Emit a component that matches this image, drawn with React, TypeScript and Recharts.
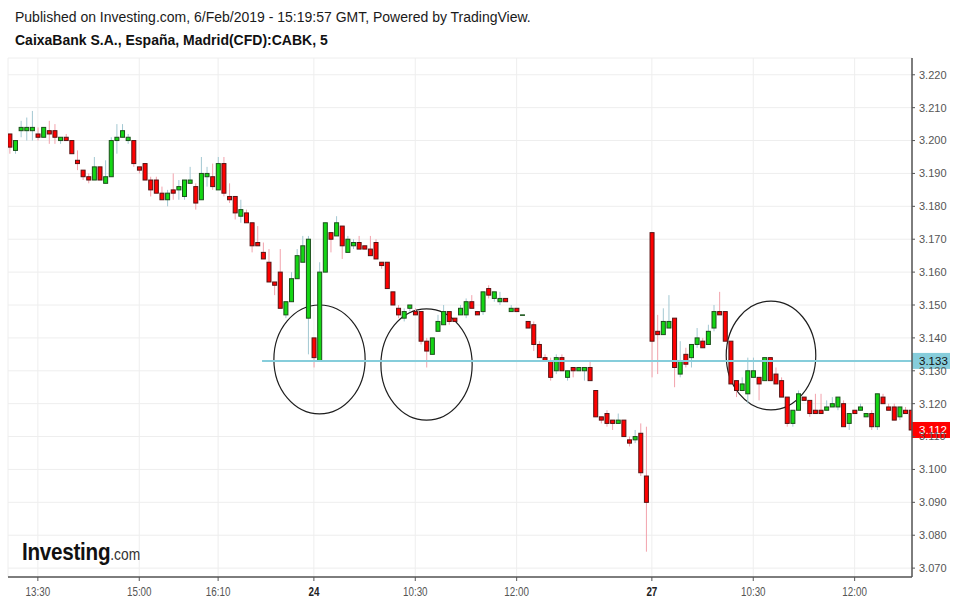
import React from 'react';
import { ComposedChart, Bar, XAxis, YAxis, CartesianGrid, ReferenceLine, ReferenceArea } from 'recharts';

// ---- data (CABK 5-minute candles) ----
const opens = [
  3.202, 3.197, 3.203, 3.203, 3.203, 3.202, 3.201, 3.203, 3.203, 3.200,
  3.201, 3.200, 3.194, 3.191, 3.189, 3.188, 3.192, 3.187, 3.189, 3.200,
  3.201, 3.200, 3.200, 3.192, 3.193, 3.188, 3.188, 3.184, 3.182, 3.185,
  3.185, 3.183, 3.187, 3.186, 3.182, 3.189, 3.189, 3.185, 3.193, 3.183,
  3.183, 3.177, 3.178, 3.175, 3.169, 3.166, 3.163, 3.157, 3.160, 3.147,
  3.151, 3.158, 3.163, 3.146, 3.140, 3.133, 3.160, 3.172, 3.171, 3.174,
  3.166, 3.168, 3.169, 3.168, 3.167, 3.169, 3.163, 3.163, 3.154, 3.149,
  3.146, 3.149, 3.148, 3.148, 3.139, 3.135, 3.142, 3.144, 3.148, 3.146,
  3.147, 3.147, 3.151, 3.148, 3.148, 3.155, 3.152, 3.151, 3.152, 3.148,
  3.149, 3.147, 3.145, 3.144, 3.138, 3.134, 3.133, 3.130, 3.134, 3.128,
  3.131, 3.130, 3.130, 3.131, 3.124, 3.116, 3.117, 3.115, 3.114, 3.115,
  3.109, 3.109, 3.111, 3.098, 3.172, 3.142, 3.141, 3.143, 3.146, 3.129,
  3.135, 3.134, 3.138, 3.139, 3.138, 3.143, 3.148, 3.148, 3.139, 3.127,
  3.124, 3.123, 3.128, 3.128, 3.127, 3.134, 3.129, 3.127, 3.122, 3.114,
  3.118, 3.122, 3.121, 3.118, 3.118, 3.118, 3.119, 3.119, 3.120, 3.114,
  3.118, 3.118, 3.116, 3.117, 3.113, 3.122, 3.119, 3.119, 3.116, 3.118,
  3.118,
];
const highs = [
  3.202, 3.200, 3.206, 3.207, 3.209, 3.204, 3.204, 3.206, 3.205, 3.201,
  3.202, 3.200, 3.197, 3.191, 3.190, 3.195, 3.192, 3.194, 3.201, 3.205,
  3.205, 3.202, 3.200, 3.192, 3.193, 3.189, 3.189, 3.186, 3.185, 3.190,
  3.188, 3.188, 3.192, 3.187, 3.195, 3.192, 3.193, 3.195, 3.195, 3.187,
  3.183, 3.182, 3.179, 3.175, 3.174, 3.169, 3.167, 3.157, 3.167, 3.151,
  3.160, 3.167, 3.171, 3.171, 3.140, 3.163, 3.175, 3.172, 3.177, 3.174,
  3.171, 3.170, 3.171, 3.168, 3.171, 3.170, 3.163, 3.163, 3.154, 3.150,
  3.149, 3.150, 3.149, 3.148, 3.140, 3.140, 3.147, 3.150, 3.148, 3.146,
  3.150, 3.152, 3.153, 3.148, 3.154, 3.156, 3.154, 3.154, 3.152, 3.150,
  3.149, 3.147, 3.145, 3.145, 3.139, 3.135, 3.134, 3.135, 3.135, 3.130,
  3.131, 3.131, 3.131, 3.133, 3.124, 3.116, 3.118, 3.115, 3.117, 3.115,
  3.110, 3.112, 3.114, 3.113, 3.172, 3.147, 3.149, 3.153, 3.146, 3.139,
  3.137, 3.138, 3.143, 3.140, 3.144, 3.150, 3.154, 3.148, 3.139, 3.127,
  3.128, 3.134, 3.134, 3.128, 3.134, 3.134, 3.131, 3.128, 3.122, 3.118,
  3.124, 3.122, 3.121, 3.123, 3.123, 3.121, 3.122, 3.122, 3.121, 3.117,
  3.118, 3.120, 3.117, 3.118, 3.123, 3.123, 3.120, 3.120, 3.119, 3.119,
  3.118,
];
const lows = [
  3.196, 3.196, 3.201, 3.200, 3.200, 3.200, 3.201, 3.199, 3.199, 3.199,
  3.200, 3.196, 3.191, 3.188, 3.187, 3.188, 3.188, 3.187, 3.189, 3.196,
  3.201, 3.199, 3.192, 3.190, 3.188, 3.183, 3.184, 3.182, 3.180, 3.182,
  3.182, 3.182, 3.187, 3.179, 3.182, 3.186, 3.185, 3.185, 3.183, 3.181,
  3.176, 3.175, 3.175, 3.166, 3.168, 3.164, 3.157, 3.153, 3.149, 3.146,
  3.151, 3.158, 3.163, 3.135, 3.131, 3.133, 3.160, 3.166, 3.171, 3.164,
  3.166, 3.167, 3.167, 3.167, 3.165, 3.164, 3.161, 3.155, 3.150, 3.146,
  3.145, 3.148, 3.147, 3.138, 3.131, 3.135, 3.142, 3.144, 3.144, 3.145,
  3.147, 3.146, 3.149, 3.147, 3.147, 3.152, 3.151, 3.150, 3.151, 3.148,
  3.148, 3.147, 3.143, 3.136, 3.134, 3.133, 3.127, 3.129, 3.130, 3.127,
  3.128, 3.130, 3.127, 3.127, 3.116, 3.114, 3.113, 3.112, 3.114, 3.110,
  3.107, 3.108, 3.098, 3.075, 3.128, 3.129, 3.141, 3.143, 3.125, 3.128,
  3.131, 3.131, 3.137, 3.137, 3.138, 3.142, 3.147, 3.139, 3.126, 3.122,
  3.124, 3.120, 3.128, 3.121, 3.127, 3.127, 3.126, 3.122, 3.113, 3.113,
  3.118, 3.121, 3.116, 3.117, 3.117, 3.118, 3.119, 3.118, 3.113, 3.112,
  3.117, 3.118, 3.116, 3.112, 3.112, 3.120, 3.118, 3.115, 3.115, 3.117,
  3.112,
];
const closes = [
  3.198, 3.200, 3.204, 3.204, 3.204, 3.201, 3.204, 3.202, 3.201, 3.201,
  3.200, 3.196, 3.193, 3.189, 3.188, 3.192, 3.188, 3.189, 3.200, 3.201,
  3.203, 3.201, 3.193, 3.191, 3.188, 3.185, 3.184, 3.182, 3.184, 3.184,
  3.186, 3.188, 3.188, 3.181, 3.190, 3.190, 3.186, 3.193, 3.184, 3.182,
  3.178, 3.179, 3.175, 3.168, 3.168, 3.164, 3.157, 3.156, 3.149, 3.151,
  3.158, 3.165, 3.168, 3.170, 3.134, 3.160, 3.175, 3.170, 3.175, 3.168,
  3.170, 3.169, 3.167, 3.167, 3.165, 3.164, 3.162, 3.155, 3.150, 3.147,
  3.148, 3.150, 3.147, 3.139, 3.136, 3.140, 3.145, 3.148, 3.145, 3.145,
  3.149, 3.151, 3.149, 3.147, 3.154, 3.153, 3.154, 3.152, 3.151, 3.149,
  3.148, 3.147, 3.143, 3.138, 3.134, 3.133, 3.128, 3.134, 3.130, 3.130,
  3.130, 3.131, 3.131, 3.127, 3.116, 3.115, 3.114, 3.114, 3.115, 3.110,
  3.108, 3.110, 3.099, 3.090, 3.139, 3.141, 3.145, 3.145, 3.131, 3.133,
  3.132, 3.138, 3.140, 3.137, 3.142, 3.148, 3.147, 3.139, 3.126, 3.124,
  3.126, 3.130, 3.130, 3.126, 3.134, 3.127, 3.126, 3.122, 3.114, 3.118,
  3.123, 3.121, 3.117, 3.117, 3.117, 3.119, 3.120, 3.122, 3.113, 3.117,
  3.117, 3.119, 3.117, 3.113, 3.123, 3.120, 3.118, 3.115, 3.119, 3.117,
  3.112,
];

const tickIndex = [5, 23, 37, 54, 72, 90, 114, 132, 150];
const tickLabels = ['13:30', '15:00', '16:10', '24', '10:30', '12:00', '27', '10:30', '12:00'];
const dayLabels = ['24', '27'];
const priceTicks = [3.07, 3.08, 3.09, 3.1, 3.11, 3.12, 3.13, 3.14, 3.15, 3.16, 3.17, 3.18, 3.19, 3.2, 3.21, 3.22];

const xDomain = [-0.3, 160.18];
const yDomain = [3.0673, 3.2251];

const supportLevel = 3.133;
const supportStart = 44.8;
const lastPrice = 3.112;

// hand-drawn circles (bounding boxes in data units)
const circleX1 = [46.9, 65.9, 127.2];
const circleX2 = [63.1, 82.1, 143.1];
const circleTop = [3.15, 3.1488, 3.1512];
const circleBottom = [3.1169, 3.115, 3.1181];

const data = opens.map((o, i) => ({ i, o, h: highs[i], l: lows[i], c: closes[i] }));

const UP_FILL = '#14d614';
const UP_BORDER = '#1b4f1b';
const UP_WICK = '#a3c8d2';
const DOWN_FILL = '#ff0000';
const DOWN_BORDER = '#561313';
const DOWN_WICK = '#f2a2ac';

const Candle = (props: any) => {
  const { x, y, width, height, payload } = props;
  if (!payload || x == null || y == null) return null;
  const { o, h, l, c } = payload;
  const up = c >= o;
  const span = h - l;
  const k = span > 0 ? height / span : 0;
  const py = (p: number) => y + (h - p) * k;
  const cx = x + width / 2;
  const bTop = py(Math.max(o, c));
  const bBot = py(Math.min(o, c));
  const bh = Math.max(bBot - bTop, 0.5);
  return (
    <g>
      <line x1={cx} x2={cx} y1={y} y2={y + height} stroke={up ? UP_WICK : DOWN_WICK} strokeWidth={1} />
      <rect x={x} y={bTop} width={width} height={bh} fill={up ? UP_FILL : DOWN_FILL}
        stroke={up ? UP_BORDER : DOWN_BORDER} strokeWidth={1} />
    </g>
  );
};

const Ellipse = (p: any) => (
  <ellipse cx={p.x + p.width / 2} cy={p.y + p.height / 2} rx={Math.abs(p.width) / 2} ry={Math.abs(p.height) / 2}
    fill="none" stroke="#1e1e1e" strokeWidth={1.2} />
);

const priceTag = (bg: string, fg: string, text: string) => (props: any) => {
  const vb = props.viewBox || {};
  const right = (vb.x || 0) + (vb.width || 0);
  const cy = vb.y || 0;
  return (
    <g>
      <rect x={right} y={cy - 8} width={38} height={16} fill={bg} />
      <text x={right + 7} y={cy} dy="0.36em" fill={fg} fontSize={11.5}
        fontFamily="'Liberation Sans', Arial, sans-serif">{text}</text>
    </g>
  );
};

const XTick = (props: any) => {
  const { x, y, payload } = props;
  const idx = tickIndex.indexOf(payload.value);
  const label = idx >= 0 ? tickLabels[idx] : '';
  const bold = dayLabels.includes(label);
  return (
    <g transform={`translate(${x},${y}) scale(0.82,1)`}>
      <text x={0} y={0} dy="0.71em" textAnchor="middle" fill={bold ? '#222' : '#555'}
        fontSize={12} fontWeight={bold ? 'bold' : 'normal'}
        fontFamily="'Liberation Sans', Arial, sans-serif">{label}</text>
    </g>
  );
};

export default function App() {
  return (
    <div style={{ position: 'absolute', left: 0, top: 0, width: 957, height: 601, background: '#fff', overflow: 'hidden' }}>
      <ComposedChart width={957} height={601} data={data} margin={{ top: 58, right: 0, bottom: 0, left: 8 }}>
        <CartesianGrid stroke="#eeeeee" strokeWidth={1} />
        <XAxis dataKey="i" type="number" domain={xDomain} allowDataOverflow ticks={tickIndex}
          tick={<XTick />} tickSize={4} tickMargin={6} height={24}
          axisLine={{ stroke: '#555', strokeWidth: 1.5 }} tickLine={{ stroke: '#555' }} />
        <YAxis orientation="right" type="number" domain={yDomain} allowDataOverflow ticks={priceTicks}
          width={45} tickSize={3} tickMargin={4} tickFormatter={(v: number) => v.toFixed(3)}
          tick={{ fill: '#555', fontSize: 11, fontFamily: "'Liberation Sans', Arial, sans-serif" }}
          axisLine={{ stroke: '#555', strokeWidth: 1.5 }} tickLine={{ stroke: '#555' }} />
        <Bar dataKey={(d: any) => [d.l, d.h]} barSize={4} shape={Candle} isAnimationActive={false} />
        {circleX1.map((x1, k) => (
          <ReferenceArea key={k} x1={x1} x2={circleX2[k]} y1={circleBottom[k]} y2={circleTop[k]}
            shape={Ellipse} ifOverflow="visible" />
        ))}
        <ReferenceLine segment={[{ x: supportStart, y: supportLevel }, { x: xDomain[1], y: supportLevel }]}
          stroke="#86cddb" strokeWidth={2} ifOverflow="visible"
          label={priceTag('#86cddb', '#111', supportLevel.toFixed(3))} />
        <ReferenceLine y={lastPrice} stroke="none" strokeOpacity={0} ifOverflow="visible"
          label={priceTag('#ff0000', '#ffffff', lastPrice.toFixed(3))} />
      </ComposedChart>
      <div style={{ position: 'absolute', left: 15, top: 9, fontFamily: "'Liberation Sans', Arial, sans-serif", fontSize: 14, color: '#1a1a1a', whiteSpace: 'nowrap' }}>
        Published on Investing.com, 6/Feb/2019 - 15:19:57 GMT, Powered by TradingView.
      </div>
      <div style={{ position: 'absolute', left: 15, top: 32, fontFamily: "'Liberation Sans', Arial, sans-serif", fontSize: 14, fontWeight: 'bold', color: '#111', whiteSpace: 'nowrap' }}>
        CaixaBank S.A., España, Madrid(CFD):CABK, 5
      </div>
      <div style={{ position: 'absolute', left: 22, top: 538, whiteSpace: 'nowrap', color: '#111', fontFamily: "'Liberation Sans', Arial, sans-serif", transform: 'scaleX(0.86)', transformOrigin: 'left top' }}>
        <span style={{ fontSize: 24, fontWeight: 'bold', letterSpacing: -0.3 }}>Investing</span>
        <span style={{ fontSize: 16, color: '#333' }}>.com</span>
      </div>
    </div>
  );
}
